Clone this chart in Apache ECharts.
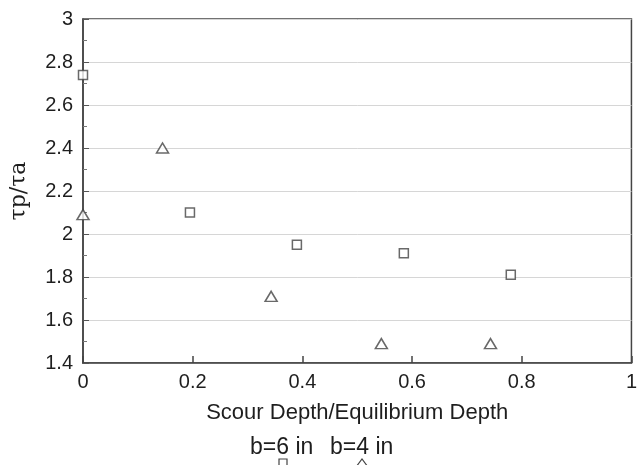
<!DOCTYPE html>
<html>
<head>
<meta charset="utf-8">
<script src="https://cdn.jsdelivr.net/npm/echarts@6/dist/echarts.min.js"></script>
<style>
    html, body {margin: 0; padding: 0; background: #fff;}
    #chart {width: 640px; height: 465px;}
</style>
</head>
<body>
<div id="chart"></div>
<script>
    // b=6 in (squares)
    var depth6 = [0, 0.195, 0.39, 0.585, 0.78];
    var ratio6 = [2.74, 2.10, 1.95, 1.91, 1.81];
    // b=4 in (triangles)
    var depth4 = [0, 0.145, 0.343, 0.544, 0.743];
    var ratio4 = [2.09, 2.40, 1.71, 1.49, 1.49];

    var legendNames = ['b=6 in', 'b=4 in'];

    function pairs(xs, ys) {
        return xs.map(function (x, i) { return [x, ys[i]]; });
    }

    var font = '"Liberation Sans", Arial, sans-serif';
    var ink = '#1e1e1e';
    var markStyle = {color: '#fff', borderColor: '#444', borderWidth: 1.5};

    var myChart = echarts.init(document.getElementById('chart'));
    myChart.setOption({
        animation: false,
        backgroundColor: '#fff',
        grid: {
            left: 82, right: 2, top: 19, bottom: 102,
            show: true, borderColor: '#444', borderWidth: 1.5
        },
        xAxis: {
            type: 'value',
            min: 0, max: 1, interval: 0.2,
            name: 'Scour Depth/Equilibrium Depth',
            nameLocation: 'middle',
            nameGap: 39,
            nameTextStyle: {fontFamily: font, fontSize: 22, color: ink},
            axisLine: {lineStyle: {color: '#444', width: 1.5}},
            axisTick: {inside: true, length: 7, lineStyle: {color: '#444', width: 1.5}},
            axisLabel: {fontFamily: font, fontSize: 20, color: ink, margin: 9},
            splitLine: {show: false}
        },
        yAxis: {
            type: 'value',
            min: 1.4, max: 3, interval: 0.2,
            name: 'τp/τa',
            nameLocation: 'middle',
            nameGap: 53,
            nameTextStyle: {fontFamily: '"DejaVu Serif", serif', fontSize: 22, color: ink},
            axisLine: {lineStyle: {color: '#444', width: 1.5}},
            axisTick: {inside: true, length: 6, lineStyle: {color: '#555'}},
            minorTick: {show: true, splitNumber: 2, length: 4, lineStyle: {color: '#777'}},
            axisLabel: {fontFamily: font, fontSize: 20, color: ink, margin: 10},
            splitLine: {show: true, lineStyle: {color: '#d6d6d6', width: 1}}
        },
        series: [
            {
                name: legendNames[0],
                type: 'scatter',
                symbol: 'rect',
                symbolSize: 9,
                itemStyle: markStyle,
                data: pairs(depth6, ratio6)
            },
            {
                name: legendNames[1],
                type: 'scatter',
                symbol: 'triangle',
                symbolSize: [12, 10],
                itemStyle: markStyle,
                data: pairs(depth4, ratio4)
            }
        ],
        graphic: [
            {type: 'text', left: 250, top: 436, style: {text: legendNames[0], font: '23px ' + font, fill: ink}},
            {type: 'text', left: 330, top: 436, style: {text: legendNames[1], font: '23px ' + font, fill: ink}},
            {type: 'rect', shape: {x: 279, y: 459, width: 8, height: 8}, style: {fill: '#fff', stroke: '#444', lineWidth: 1.2}},
            {type: 'polyline', shape: {points: [[356, 467], [362, 459], [368, 467]]}, style: {fill: 'none', stroke: '#444', lineWidth: 1.2}}
        ]
    });
</script>
</body>
</html>
